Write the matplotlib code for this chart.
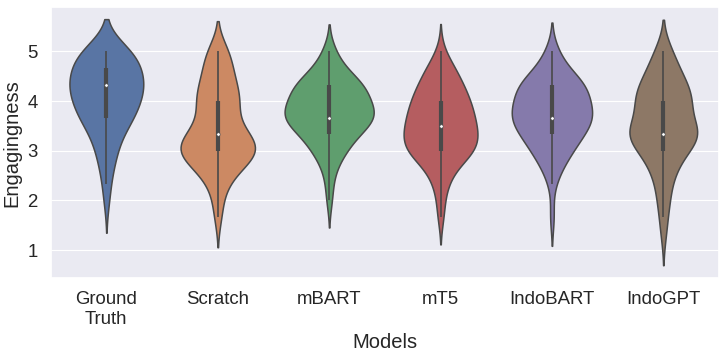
import numpy as np
import pandas as pd
import matplotlib
matplotlib.use("Agg")
import matplotlib.pyplot as plt
from matplotlib import cbook
import seaborn as sns

# Score levels (average of three annotators, 1-5 scale)
score_levels = [1.0, 1.333, 1.667, 2.0, 2.333, 2.667, 3.0, 3.333, 3.667, 4.0, 4.333, 4.667, 5.0]

models = ["Ground\nTruth", "Scratch", "mBART", "mT5", "IndoBART", "IndoGPT"]

counts_ground_truth = [0, 0, 0, 1, 1, 2, 3, 4, 8, 9, 11, 9, 9]
counts_scratch      = [0, 0, 3, 3, 6, 15, 32, 20, 10, 16, 12, 9, 9]
counts_mbart        = [0, 0, 0, 1, 1, 2, 5, 8, 15, 11, 11, 4, 2]
counts_mt5          = [0, 0, 2, 2, 4, 8, 20, 20, 18, 16, 12, 8, 2]
counts_indobart     = [0, 0, 1, 0, 1, 3, 6, 9, 13, 10, 11, 4, 2]
counts_indogpt      = [0, 2, 2, 4, 4, 8, 12, 27, 11, 18, 14, 8, 6]

all_counts = [counts_ground_truth, counts_scratch, counts_mbart,
              counts_mt5, counts_indobart, counts_indogpt]

rows = []
for m, c in zip(models, all_counts):
    vals = np.repeat(score_levels, c)
    rows.append(pd.DataFrame({"Models": m, "Engagingness": vals}))
df = pd.concat(rows, ignore_index=True)

sns.set_theme(style="darkgrid")
plt.rcParams["font.family"] = ["Liberation Sans", "DejaVu Sans"]

fig = plt.figure(figsize=(7.27, 3.57), dpi=100)
ax = fig.add_axes([0.0697, 0.2213, 0.9193, 0.7583])

sns.violinplot(data=df, x="Models", y="Engagingness", hue="Models",
               order=models, palette="deep", legend=False, ax=ax,
               linewidth=1.1, inner=None, density_norm="area",
               common_norm=True)

gray = ax.collections[0].get_edgecolor()[0]

# inner box (seaborn 0.11 style): whisker line, thick IQR bar, white median dot
for i, m in enumerate(models):
    vals = df.loc[df["Models"] == m, "Engagingness"].to_numpy()
    st = cbook.boxplot_stats(vals, whis=1.5)[0]
    ax.plot([i, i], [st["whislo"], st["whishi"]], color=gray, lw=1.2,
            solid_capstyle="butt", zorder=3)
    ax.plot([i, i], [st["q1"], st["q3"]], color=gray, lw=3.0,
            solid_capstyle="butt", zorder=3)
    ax.scatter([i], [st["med"]], s=6, color="white", edgecolor=gray,
               linewidth=0.4, zorder=4)

ax.set_ylim(0.437, 5.89)
ax.set_xlim(-0.5, 5.5)
ax.set_yticks([1, 2, 3, 4, 5])
ax.grid(True, axis="y", color="white", linewidth=0.8)
ax.grid(False, axis="x")
ax.tick_params(axis="both", labelsize=13.4, colors=".15")
ax.set_xlabel("Models", fontsize=14.5, color=".15")
ax.set_ylabel("Engagingness", fontsize=14.5, color=".15")

fig.savefig("out.png", dpi=100)
